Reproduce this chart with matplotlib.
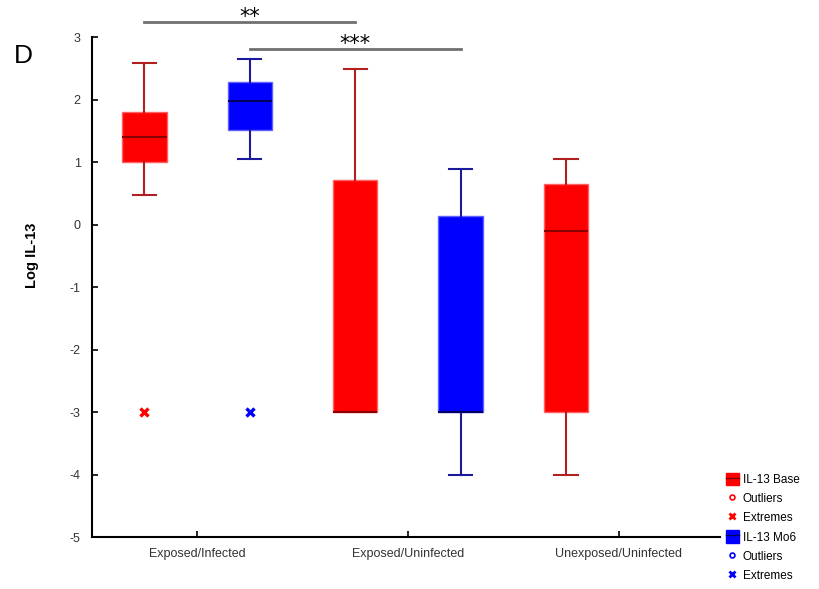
import matplotlib
matplotlib.use("Agg")
import matplotlib.pyplot as plt
from matplotlib.patches import Patch
from matplotlib.lines import Line2D

plt.rcParams['font.family'] = ['Liberation Sans', 'DejaVu Sans']

# groups on the x axis
groups = ['Exposed/Infected', 'Exposed/Uninfected', 'Unexposed/Uninfected']

# IL-13 Base (red) box stats, one per group
base_whishi = [2.59, 2.49, 1.05]
base_q3 = [1.80, 0.71, 0.65]
base_med = [1.40, -3.0, -0.10]
base_q1 = [1.00, -3.0, -3.0]
base_whislo = [0.48, -3.0, -4.0]
base_extremes = [[-3.0], [], []]

# IL-13 Mo6 (blue) box stats, only first two groups
mo6_whishi = [2.65, 0.89]
mo6_q3 = [2.28, 0.14]
mo6_med = [1.98, -3.0]
mo6_q1 = [1.52, -3.0]
mo6_whislo = [1.05, -4.0]
mo6_extremes = [[-3.0], []]

yticks = [-5, -4, -3, -2, -1, 0, 1, 2, 3]


def make_stats(hi, q3, med, q1, lo):
    return [dict(whishi=a, q3=b, med=c, q1=d, whislo=e, fliers=[])
            for a, b, c, d, e in zip(hi, q3, med, q1, lo)]


fig = plt.figure(figsize=(8.19, 5.89), dpi=100)
ax = fig.add_axes([0.112, 0.088, 0.767, 0.849])

red = '#ff0000'
blue = '#0000ff'
dred = '#b02020'
dblue = '#1a1a9a'
off = 0.25
wid = 0.21

base_pos = [i - off for i in range(len(base_med))]
mo6_pos = [i + off for i in range(len(mo6_med))]

ax.bxp(make_stats(base_whishi, base_q3, base_med, base_q1, base_whislo),
       positions=base_pos, widths=wid, patch_artist=True, showfliers=False,
       boxprops=dict(facecolor=red, edgecolor='#ff6060', linewidth=1),
       whiskerprops=dict(color=dred, linewidth=1.5),
       capprops=dict(color=dred, linewidth=1.5),
       medianprops=dict(color='#8a0000', linewidth=1.5),
       capwidths=0.11)
ax.bxp(make_stats(mo6_whishi, mo6_q3, mo6_med, mo6_q1, mo6_whislo),
       positions=mo6_pos, widths=wid, patch_artist=True, showfliers=False,
       boxprops=dict(facecolor=blue, edgecolor='#6060ff', linewidth=1),
       whiskerprops=dict(color=dblue, linewidth=1.5),
       capprops=dict(color=dblue, linewidth=1.5),
       medianprops=dict(color='#000060', linewidth=1.5),
       capwidths=0.11)

# extremes
for p, ex in zip(base_pos, base_extremes):
    if ex:
        ax.plot([p] * len(ex), ex, 'x', color=red, ms=6, mew=2.4)
for p, ex in zip(mo6_pos, mo6_extremes):
    if ex:
        ax.plot([p] * len(ex), ex, 'x', color=blue, ms=6, mew=2.4)

ax.set_xlim(-0.5, 2.48)
ax.set_ylim(-5, 3)
ax.set_yticks(yticks)
ax.set_yticklabels([str(t) for t in yticks])
ax.set_xticks(range(len(groups)))
ax.set_xticklabels(groups)
ax.tick_params(direction='in', length=4, width=1.2, labelsize=9, colors='black')
ax.tick_params(axis='y', pad=8)
ax.tick_params(axis='x', pad=8)
for lab in ax.get_xticklabels() + ax.get_yticklabels():
    lab.set_color('#333333')
ax.spines['top'].set_visible(False)
ax.spines['right'].set_visible(False)
ax.spines['left'].set_linewidth(1.5)
ax.spines['bottom'].set_linewidth(1.5)
ax.set_ylabel('Log IL-13', fontsize=10.5, fontweight='bold')
ax.yaxis.set_label_coords(-0.084, 0.564)

# significance bars
ax.plot([base_pos[0], base_pos[1]], [3.24, 3.24], color='#707070', lw=2, clip_on=False)
ax.text((base_pos[0] + base_pos[1]) / 2, 3.22, '**', ha='center', va='baseline',
        fontsize=15, family='DejaVu Sans')
ax.plot([mo6_pos[0], mo6_pos[1]], [2.81, 2.81], color='#707070', lw=2, clip_on=False)
ax.text((mo6_pos[0] + mo6_pos[1]) / 2, 2.79, '***', ha='center', va='baseline',
        fontsize=15, family='DejaVu Sans')

fig.text(0.028, 0.905, 'D', fontsize=19, ha='center', va='center')

handles = [
    (Patch(facecolor=red, edgecolor=red), Line2D([], [], color='#8a0000', lw=1)),
    Line2D([], [], marker='o', color=red, ls='none', ms=3.5, mfc='none', mew=1.2),
    Line2D([], [], marker='x', color=red, ls='none', ms=5, mew=2),
    (Patch(facecolor=blue, edgecolor=blue), Line2D([], [], color='#000060', lw=1)),
    Line2D([], [], marker='o', color=blue, ls='none', ms=3.5, mfc='none', mew=1.2),
    Line2D([], [], marker='x', color=blue, ls='none', ms=5, mew=2),
]
labels = ['IL-13 Base', 'Outliers', 'Extremes', 'IL-13 Mo6', 'Outliers', 'Extremes']
fig.legend(handles, labels, loc='upper left', bbox_to_anchor=(0.886, 0.197),
           frameon=False, fontsize=8.5, handlelength=1.15, handleheight=1.25,
           handletextpad=0.3, labelspacing=0.5, borderpad=0, borderaxespad=0)

fig.savefig('out.png', dpi=100)
